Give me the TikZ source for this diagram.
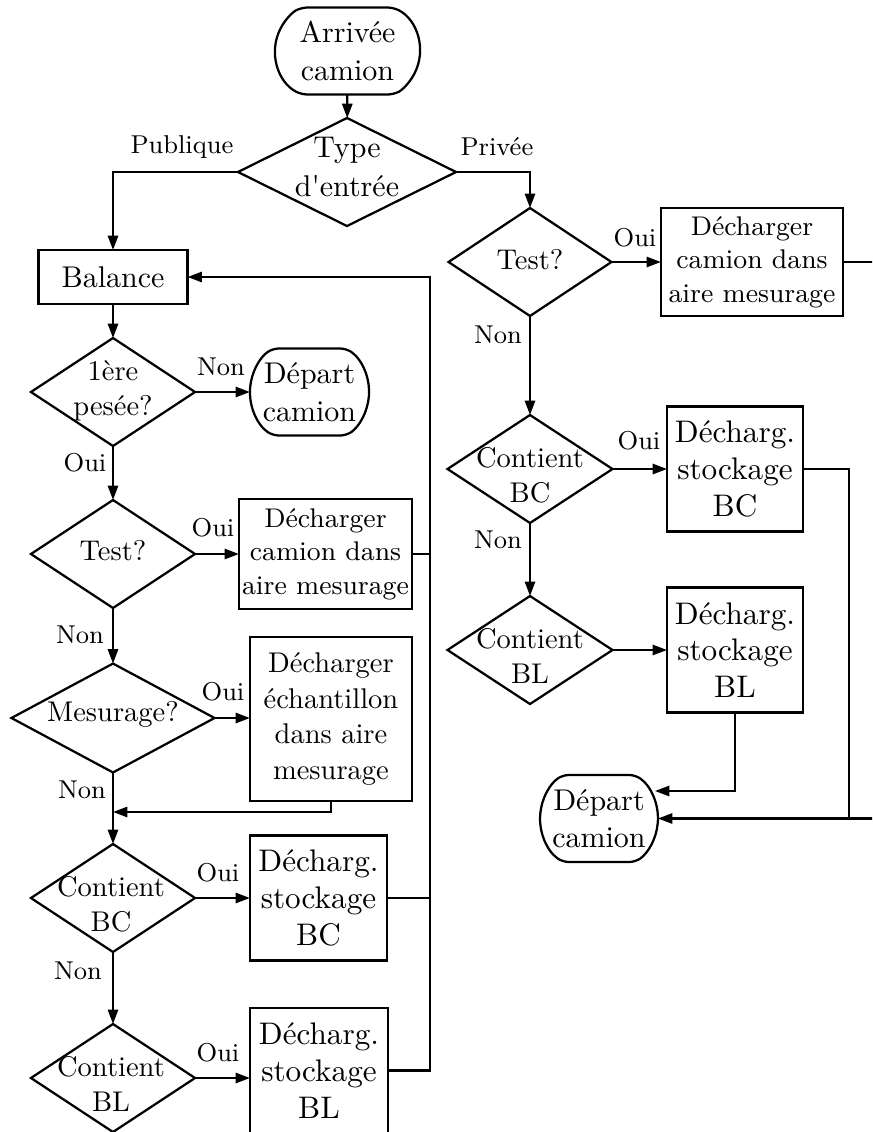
\documentclass[tikz,border=0pt]{standalone}
\usetikzlibrary{shapes.geometric,shapes.misc,arrows.meta,calc}
\begin{document}
\begin{tikzpicture}[x=0.33333pt,y=-0.33333pt,
  line width=0.75pt,
  every node/.style={inner sep=0pt, outer sep=0pt},
  arr/.style={-{Triangle[length=4.8pt,width=3.4pt]}},
  proc/.style={draw, rectangle, align=center},
  term/.style={draw, rounded rectangle, rounded rectangle arc length=110,
    rounded corners=2pt, align=center, font=\fontsize{10}{12.5}\selectfont},
  dec/.style={draw, diamond},
  dectext/.style={align=center, font=\fontsize{9.5}{11.7}\selectfont},
  lbl/.style={font=\fontsize{8.6}{10}\selectfont},
  fbig/.style={font=\fontsize{10.4}{12.2}\selectfont},
  fmid/.style={font=\fontsize{9.5}{11.8}\selectfont},
  fsmall/.style={font=\fontsize{9}{11.2}\selectfont}
]
\useasboundingbox (0,0) rectangle (872,1132);
\clip (0,0) rectangle (872,1132);

% ---------- entry ----------
\node[term, rounded rectangle arc length=125, minimum width=48.3pt, minimum height=29pt] (start) at (347.5,51) {Arrivée\\camion};
\node[dec, minimum width=72.7pt, minimum height=36pt] (d0) at (347,172) {};
\node[align=center, font=\fontsize{10}{13}\selectfont] (d0t) at (347,167) {Type\\d\textquotesingle entrée};

% ---------- public branch ----------
\node[proc, minimum width=49.7pt, minimum height=18pt, font=\fontsize{10}{12}\selectfont] (bal) at (113,277) {Balance};

\node[dec, minimum width=54.7pt, minimum height=36pt] (d1) at (113,392) {};
\node[dectext] (d1t) at (113,391) {1ère\\pesée?};
\node[term, minimum width=39.7pt, minimum height=29pt] (dep1) at (309.5,392) {Départ\\camion};

\node[dec, minimum width=54.7pt, minimum height=36pt] (d2) at (113,554) {};
\node[dectext] (d2t) at (113,551) {Test?};
\node[proc, fsmall, minimum width=57.7pt, minimum height=36.7pt] (box1) at (325.5,554) {Décharger\\camion dans\\aire mesurage};

\node[dec, minimum width=67.7pt, minimum height=36.3pt] (d3) at (113,718) {};
\node[dectext] (d3t) at (113,714) {Mesurage?};
\node[proc, fmid, minimum width=54pt, minimum height=54.7pt] (box2) at (331,719) {Décharger\\échantillon\\dans aire\\mesurage};
\coordinate (merge) at (113,812);

\node[dec, minimum width=54.7pt, minimum height=36pt] (d4) at (113,898) {};
\node[dectext] (d4t) at (111,904) {Contient\\BC};
\node[proc, fbig, minimum width=45.7pt, minimum height=41.7pt] (box3) at (318.5,898) {Décharg.\\stockage\\BC};

\node[dec, minimum width=54.7pt, minimum height=36pt] (d5) at (113,1078) {};
\node[dectext] (d5t) at (111,1084) {Contient\\BL};
\node[proc, fbig, minimum width=46pt, minimum height=41.7pt] (box4) at (319,1070.5) {Décharg.\\stockage\\BL};

\coordinate (bus) at (430,0);

% ---------- private branch ----------
\node[dec, minimum width=54.3pt, minimum height=36pt] (d6) at (530,262) {};
\node[dectext] (d6t) at (530,260) {Test?};
\node[proc, fsmall, minimum width=60.7pt, minimum height=36pt] (box5) at (752,262) {Décharger\\camion dans\\aire mesurage};

\node[dec, minimum width=55pt, minimum height=36pt] (d7) at (530,469) {};
\node[dectext] (d7t) at (530,475) {Contient\\BC};
\node[proc, fbig, minimum width=45.3pt, minimum height=41.7pt] (box6) at (735,469) {Décharg.\\stockage\\BC};

\node[dec, minimum width=55pt, minimum height=36pt] (d8) at (530,650) {};
\node[dectext] (d8t) at (530,656) {Contient\\BL};
\node[proc, fbig, minimum width=45.3pt, minimum height=41.7pt] (box7) at (735,650) {Décharg.\\stockage\\BL};

\node[term, minimum width=39.3pt, minimum height=29pt] (dep2) at (599,818.5) {Départ\\camion};
\coordinate (bus2) at (849,0);
\coordinate (in2) at ($(dep2.east)+(-3,-27.5)$);

% ---------- connectors ----------
\draw[arr] (start) -- (d0);
\draw[arr] (d0.west) -| (bal.north);
\draw[arr] (d0.east) -| (d6.north);

\draw[arr] (bal) -- (d1);
\draw[arr] (d1) -- (dep1);
\draw[arr] (d1) -- (d2);
\draw[arr] (d2) -- (box1);
\draw[arr] (d2) -- (d3);
\draw[arr] (d3.east) -- (d3.east -| box2.west);
\draw[arr] (box2.south) |- (merge);
\draw[arr] (d3) -- (d4);
\draw[arr] (d4) -- (box3);
\draw[arr] (d4) -- (d5);
\draw[arr] (d5.east) -- (d5.east -| box4.west);

\draw (box1.east) -- (box1.east -| bus);
\draw (box3.east) -- (box3.east -| bus);
\draw[arr] (box4.east) -| (bus |- bal.east) -- (bal.east);

\draw[arr] (d6) -- (box5);
\draw[arr] (d6) -- (d7);
\draw[arr] (d7) -- (box6);
\draw[arr] (d7) -- (d8);
\draw[arr] (d8) -- (box7);
\draw[arr] (box7.south) |- (in2);
\draw (box6.east) -| (bus2 |- dep2.east);
\draw[arr] (box5.east) -- ++(45,0) |- (dep2.east);

% ---------- branch labels ----------
\node[lbl] (lpub) at (182,147) {Publique};
\node[lbl] (lpriv) at (497,147) {Privée};
\node[lbl] (l1) at (221,367) {Non};
\node[lbl] (l2) at (85,463) {Oui};
\node[lbl] (l3) at (213,528) {Oui};
\node[lbl] (l4) at (80,635) {Non};
\node[lbl] (l5) at (223,692) {Oui};
\node[lbl] (l6) at (82,790) {Non};
\node[lbl] (l7) at (218,873) {Oui};
\node[lbl] (l8) at (78,971) {Non};
\node[lbl] (l9) at (218,1053) {Oui};
\node[lbl] (l10) at (635,238) {Oui};
\node[lbl] (l11) at (498,335) {Non};
\node[lbl] (l12) at (639,441) {Oui};
\node[lbl] (l13) at (498,540) {Non};
\end{tikzpicture}
\end{document}
